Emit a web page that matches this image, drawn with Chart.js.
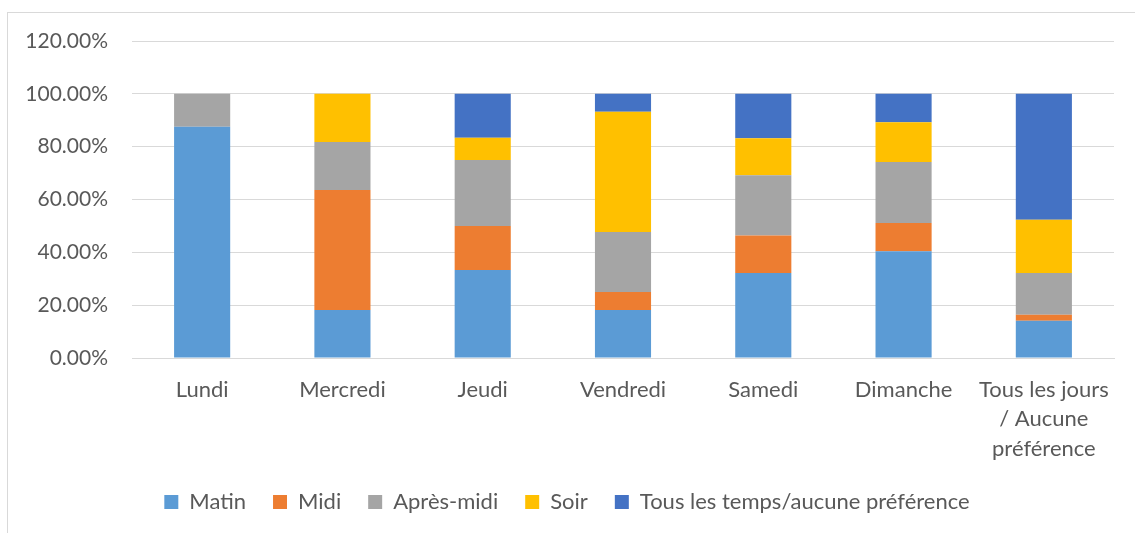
<!DOCTYPE html>
<html>
<head>
<meta charset="utf-8">
<script src="https://cdn.jsdelivr.net/npm/chart.js@4"></script>
<style>
  html, body { margin: 0; padding: 0; background: #fff; overflow: hidden; width: 1135px; height: 533px; }
  #frame { position: absolute; left: 7px; top: 12px; width: 1200px; height: 600px; border: 1px solid #d9d9d9; }
  #chart { position: absolute; left: 0; top: 0; }
</style>
</head>
<body>
<div id="frame"></div>
<canvas id="chart" width="1160" height="533"></canvas>
<script>
// jours (catégories)
var jours = ['Lundi', 'Mercredi', 'Jeudi', 'Vendredi', 'Samedi', 'Dimanche', ['Tous les jours', '/ Aucune', 'préférence']];

// pourcentages par moment de la journée
var matin     = [87.5, 18.18, 33.33, 18.18, 32.2, 40.4, 14.1];
var midi      = [0, 45.45, 16.67, 6.82, 14.2, 10.7, 2.3];
var apresMidi = [12.5, 18.18, 25, 22.73, 22.8, 23.1, 15.8];
var soir      = [0, 18.18, 8.33, 45.45, 14.0, 15.0, 20.1];
var tousTemps = [0, 0, 16.67, 6.82, 16.8, 10.8, 47.7];

var yTicks = [0, 20, 40, 60, 80, 100, 120];

var police = "Lato, 'Open Sans', sans-serif";
var gris = '#595959';

var ctx = document.getElementById('chart').getContext('2d');
var chart = new Chart(ctx, {
  type: 'bar',
  data: {
    labels: jours,
    datasets: [
      { label: 'Matin', data: matin, backgroundColor: '#5B9BD5' },
      { label: 'Midi', data: midi, backgroundColor: '#ED7D31' },
      { label: 'Après-midi', data: apresMidi, backgroundColor: '#A5A5A5' },
      { label: 'Soir', data: soir, backgroundColor: '#FFC000' },
      { label: 'Tous les temps/aucune préférence', data: tousTemps, backgroundColor: '#4472C4' }
    ]
  },
  options: {
    responsive: false,
    animation: false,
    layout: { padding: { left: 20, right: 46, top: 41, bottom: 10 } },
    datasets: { bar: { barPercentage: 0.4, categoryPercentage: 1.0, borderWidth: 0 } },
    scales: {
      x: {
        stacked: true,
        grid: { display: false },
        border: { color: '#d9d9d9' },
        ticks: {
          color: gris,
          padding: 9,
          maxRotation: 0,
          autoSkip: false,
          font: { family: police, size: 22, lineHeight: 1.34 }
        },
        afterFit: function(scale) { scale.height = 106; }
      },
      y: {
        stacked: true,
        min: 0,
        max: 120,
        afterBuildTicks: function(scale) {
          scale.ticks = yTicks.map(function(v) { return { value: v }; });
        },
        grid: { color: '#d9d9d9', drawTicks: false },
        border: { display: false },
        ticks: {
          color: gris,
          padding: 24,
          font: { family: police, size: 21 },
          callback: function(v) { return v.toFixed(2) + '%'; }
        },
        afterFit: function(scale) { scale.width = 112; }
      }
    },
    plugins: {
      tooltip: { enabled: false },
      legend: {
        position: 'bottom',
        labels: {
          color: gris,
          boxWidth: 14,
          boxHeight: 14,
          padding: 27,
          font: { family: police, size: 22 }
        }
      }
    }
  }
});
</script>
</body>
</html>
